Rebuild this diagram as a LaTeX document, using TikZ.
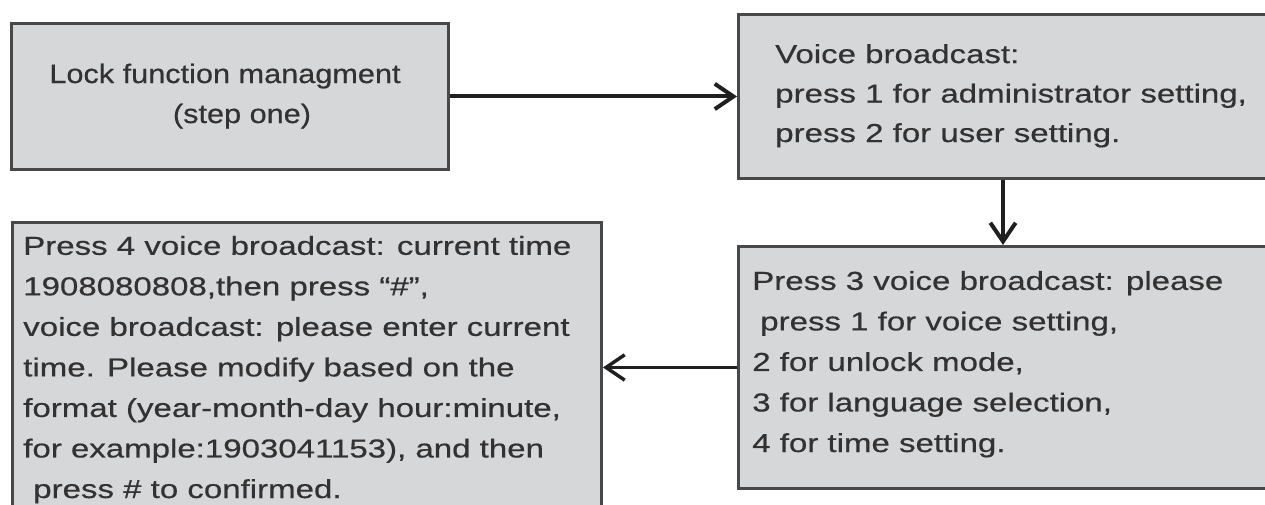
\documentclass[tikz,border=0pt]{standalone}
\usepackage{fontspec}
\setmainfont{Liberation Sans}[FakeStretch=1.27,FakeBold=0.5]
\newfontfamily\boxonefont{Liberation Sans}[FakeStretch=1.15,FakeBold=0.5]
\usetikzlibrary{arrows.meta}
\definecolor{boxfill}{RGB}{214,215,217}
\definecolor{boxline}{RGB}{72,72,72}
\definecolor{txtc}{RGB}{50,50,50}
\begin{document}
\begin{tikzpicture}[x=0.75pt,y=-0.75pt,
  box/.style={draw=boxline, fill=boxfill, line width=2.2pt, inner sep=0pt, anchor=north west},
  txt/.style={text=txtc, font=\fontsize{19.5}{30.4}\selectfont, align=left, inner sep=0pt, anchor=base west},
  arr/.style={draw=black!88, line width=3pt, -{Straight Barb[length=14pt,width=19pt]}}]
\useasboundingbox[fill=white] (0,0) rectangle (1265,504);
\clip (0,0) rectangle (1265,504);
% boxes
\node[box, minimum width=327.75pt, minimum height=109.5pt] (b1) at (10,22) {};
\node[box, minimum width=403.5pt, minimum height=123pt] (b2) at (737,13) {};
\node[box, minimum width=403.5pt, minimum height=181.5pt] (b3) at (737,245) {};
\node[box, minimum width=441.75pt, minimum height=224.25pt] (b4) at (11,221) {};
% texts (anchor = baseline of the last line)
\node[txt, anchor=base, align=center, font=\boxonefont\fontsize{20}{30}\selectfont] (t1) at (225,123)
  {Lock function managment\\\hspace*{25.5pt}(step one)};
\node[txt, font=\fontsize{19.5}{29.6}\selectfont] (t2) at (775,142)
  {Voice broadcast:\\press 1 for administrator setting,\\press 2 for user setting.};
\node[txt] (t3) at (752,452)
  {Press 3 voice broadcast: please\\\hspace*{6pt}press 1 for voice setting,\\2 for unlock mode,\\3 for language selection,\\4 for time setting.};
\node[txt] (t4) at (23,498)
  {Press 4 voice broadcast: current time\\1908080808,then press “\#”,\\voice broadcast: please enter current\\time. Please modify based on the\\format (year-month-day hour:minute,\\for example:1903041153), and then\\\hspace*{7.5pt}press \# to confirmed.};
% connectors
\draw[arr] (b1.east) -- (b1.east -| b2.west);
\draw[arr] ([xshift=199.5pt]b2.south west) -- ([xshift=199.5pt]b3.north west);
\draw[arr, line width=2.6pt] (b3.west) -- (b3.west -| b4.east);
\end{tikzpicture}
\end{document}
